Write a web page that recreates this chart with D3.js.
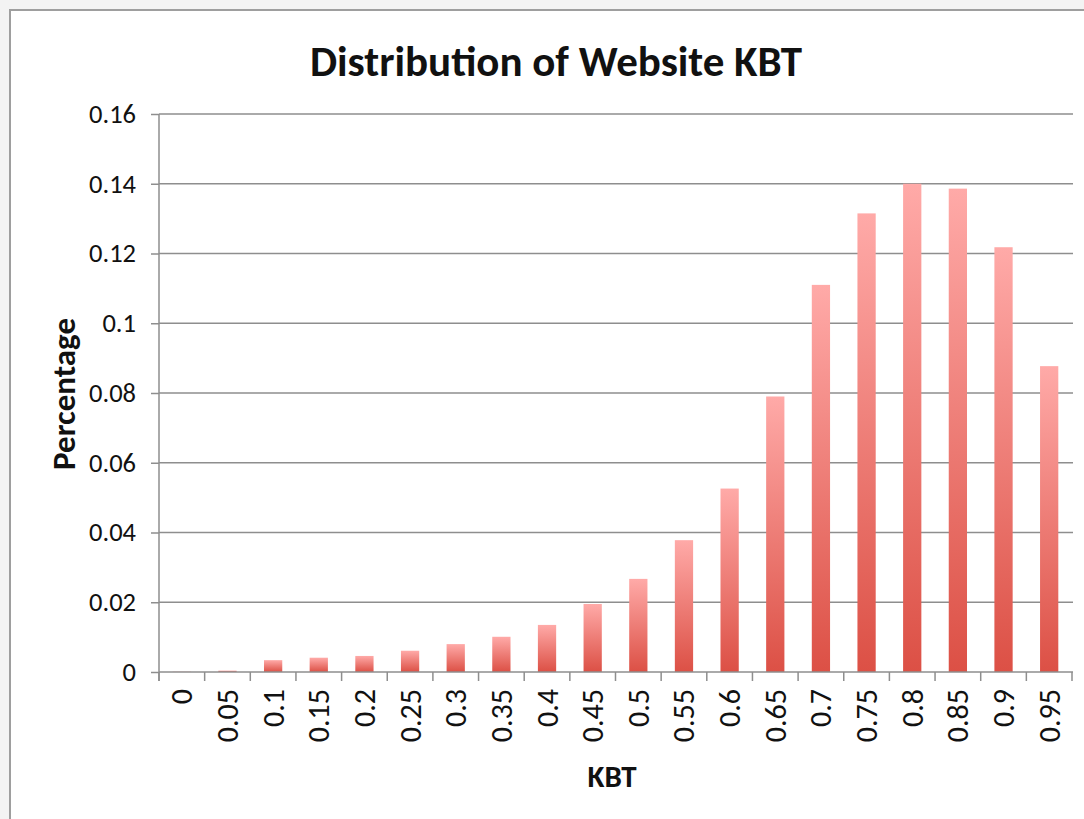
<!DOCTYPE html>
<html>
<head>
<meta charset="utf-8">
<script src="https://cdn.jsdelivr.net/npm/d3@7"></script>
<style>
	html, body { margin: 0; padding: 0; background: #fff; }
	svg { display: block; }
</style>
</head>
<body>
<div id="chart"></div>
<script>
// Chart data
const categories = ['0', '0.05', '0.1', '0.15', '0.2', '0.25', '0.3', '0.35', '0.4', '0.45',
	'0.5', '0.55', '0.6', '0.65', '0.7', '0.75', '0.8', '0.85', '0.9', '0.95'];
const percentages = [0.0001, 0.0004, 0.0034, 0.0041, 0.0046, 0.0061, 0.008, 0.0101, 0.0135, 0.0195,
	0.0267, 0.0378, 0.0526, 0.079, 0.111, 0.1315, 0.1400, 0.1386, 0.1218, 0.0877];
const yTicks = [0, 0.02, 0.04, 0.06, 0.08, 0.1, 0.12, 0.14, 0.16];

const titleText = 'Distribution of Website KBT';
const xTitle = 'KBT';
const yTitle = 'Percentage';

// Dimensions
const width = 1084;
const height = 819;
const marginTop = 114;
const marginLeft = 159;
const plotRight = 1072;
const plotBottom = 672;
const fontStack = "Carlito, Calibri, 'Liberation Sans', Arial, sans-serif";

const svg = d3.select('#chart')
	.append('svg')
	.attr('width', width)
	.attr('height', height)
	.attr('viewBox', [0, 0, width, height])
	.style('font-family', fontStack);

// Window frame around the chart
svg.append('rect')
	.attr('width', width)
	.attr('height', height)
	.attr('fill', '#f3f3f3');
svg.append('rect')
	.attr('x', 10)
	.attr('y', 10)
	.attr('width', width)
	.attr('height', height)
	.attr('fill', '#fff')
	.attr('stroke', '#9e9e9e')
	.attr('stroke-width', 2);

// Gradient for the bars
const grad = svg.append('defs')
	.append('linearGradient')
	.attr('id', 'barGrad')
	.attr('x1', 0).attr('y1', 0)
	.attr('x2', 0).attr('y2', 1);
grad.append('stop').attr('offset', '0%').attr('stop-color', '#ffaaa8');
grad.append('stop').attr('offset', '100%').attr('stop-color', '#dc5045');

// Scales
const x = d3.scaleBand()
	.domain(categories)
	.range([marginLeft, plotRight])
	.paddingInner(0.6)
	.paddingOuter(0.3);

const y = d3.scaleLinear()
	.domain([0, 0.16])
	.range([plotBottom, marginTop]);

const gridColor = '#8e8e8e';

// Gridlines
svg.append('g')
	.selectAll('line')
	.data(yTicks.filter((d) => d > 0))
	.join('line')
	.attr('x1', marginLeft)
	.attr('x2', plotRight + 1)
	.attr('y1', (d) => y(d))
	.attr('y2', (d) => y(d))
	.attr('stroke', gridColor)
	.attr('stroke-width', 1.5);

// Bars
svg.append('g')
	.selectAll('rect')
	.data(percentages)
	.join('rect')
	.attr('x', (d, i) => x(categories[i]))
	.attr('y', (d) => y(d))
	.attr('width', x.bandwidth())
	.attr('height', (d) => y(0) - y(d))
	.attr('fill', 'url(#barGrad)');

// Y axis
const yAxis = svg.append('g')
	.attr('transform', 'translate(' + marginLeft + ',0)')
	.call(d3.axisLeft(y).tickValues(yTicks).tickFormat(d3.format('.2~f')).tickSize(8).tickPadding(15));
yAxis.select('.domain').remove();
yAxis.selectAll('.tick line').attr('stroke', gridColor).attr('stroke-width', 1.5);
yAxis.selectAll('.tick text')
	.attr('fill', '#111')
	.style('font-family', fontStack)
	.style('font-size', '26.5px');
svg.append('line')
	.attr('x1', marginLeft).attr('x2', marginLeft)
	.attr('y1', marginTop).attr('y2', plotBottom + 9)
	.attr('stroke', gridColor)
	.attr('stroke-width', 1.5);

// X axis: ticks between categories
const step = x.step();
const boundaries = categories.map((c) => x(c) - step * x.paddingInner() / 2);
boundaries.push(plotRight);

svg.append('line')
	.attr('x1', marginLeft).attr('x2', plotRight + 1)
	.attr('y1', plotBottom).attr('y2', plotBottom)
	.attr('stroke', gridColor)
	.attr('stroke-width', 1.5);
svg.append('g')
	.selectAll('line')
	.data(boundaries)
	.join('line')
	.attr('x1', (d) => d).attr('x2', (d) => d)
	.attr('y1', plotBottom).attr('y2', plotBottom + 9)
	.attr('stroke', gridColor)
	.attr('stroke-width', 1.5);

svg.append('g')
	.selectAll('text')
	.data(categories)
	.join('text')
	.attr('transform', (d) => 'translate(' + (x(d) + x.bandwidth() / 2) + ',' + (plotBottom + 17) + ') rotate(-90)')
	.attr('text-anchor', 'end')
	.attr('dy', '0.35em')
	.attr('fill', '#111')
	.style('font-size', '30px')
	.text((d) => d);

// Titles
svg.append('text')
	.attr('x', 556)
	.attr('y', 76)
	.attr('text-anchor', 'middle')
	.style('font-size', '43px')
	.style('font-weight', 'bold')
	.attr('fill', '#111')
	.text(titleText);

svg.append('text')
	.attr('x', 612)
	.attr('y', 787)
	.attr('text-anchor', 'middle')
	.style('font-size', '31px')
	.style('font-weight', 'bold')
	.attr('fill', '#111')
	.text(xTitle);

svg.append('text')
	.attr('transform', 'translate(75,394) rotate(-90)')
	.attr('text-anchor', 'middle')
	.style('font-size', '33px')
	.style('font-weight', 'bold')
	.attr('fill', '#111')
	.text(yTitle);
</script>
</body>
</html>
